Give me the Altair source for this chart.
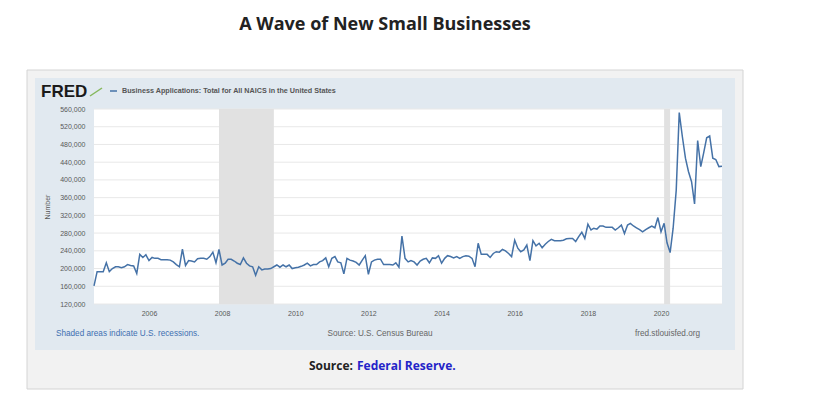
import altair as alt
import pandas as pd

# Monthly business applications (thousands), Jul 2004 .. Sep 2021
values_k = [
    161, 193, 193, 193, 213, 193, 200, 204, 204, 202, 204, 209,
    207, 206, 189, 232, 225, 231, 218, 225, 223, 223, 220, 220,
    220, 219, 215, 209, 204, 244, 207, 218, 217, 215, 222, 223,
    223, 221, 227, 237, 213, 243, 208, 212, 221, 221, 217, 212,
    209, 224, 212, 206, 204, 185, 204, 197, 199, 199, 200, 204,
    208, 203, 208, 204, 208, 200, 202, 203, 205, 208, 212, 206,
    209, 209, 215, 218, 224, 204, 223, 227, 215, 213, 188, 223,
    219, 217, 214, 208, 219, 229, 187, 215, 219, 221, 221, 209,
    209, 209, 208, 213, 203, 273, 223, 215, 218, 215, 208, 217,
    221, 223, 213, 224, 223, 229, 212, 223, 229, 227, 224, 227,
    223, 227, 229, 228, 223, 204, 257, 232, 232, 232, 225, 234,
    238, 237, 243, 240, 234, 227, 264, 246, 238, 242, 253, 218,
    263, 251, 257, 247, 255, 261, 266, 263, 263, 263, 264, 267,
    268, 268, 261, 272, 282, 268, 300, 287, 291, 289, 296, 296,
    293, 293, 293, 287, 292, 298, 279, 298, 302, 296, 292, 288,
    283, 288, 292, 296, 292, 315, 283, 302, 258, 236, 291, 377,
    552, 498, 449, 419, 396, 346, 489, 430, 460, 495, 499, 449,
    446, 430, 431,
]
first_month = "2004-07-01"
recession_start = ["2007-12-01", "2020-02-01"]
recession_end = ["2009-06-01", "2020-04-01"]
y_ticks = [120000, 160000, 200000, 240000, 280000, 320000, 360000,
           400000, 440000, 480000, 520000, 560000]
x_tick_years = [2006, 2008, 2010, 2012, 2014, 2016, 2018, 2020]

dates = pd.date_range(first_month, periods=len(values_k), freq="MS")
df = pd.DataFrame({"date": dates, "value": [v * 1000 for v in values_k]})
rec = pd.DataFrame({"start": pd.to_datetime(recession_start),
                    "end": pd.to_datetime(recession_end)})
grid = pd.DataFrame({"v": y_ticks})
dummy = pd.DataFrame({"a": [0]})

W, H = 628, 195
LBL = "#595959"
FF = "Liberation Sans"

xscale = alt.Scale(domain=[alt.DateTime(year=2004, month=7, date=1),
                           alt.DateTime(year=2021, month=9, date=1)], nice=False)
yscale = alt.Scale(domain=[120000, 560000], nice=False, zero=False)
xaxis = alt.Axis(values=[alt.DateTime(year=y, month=1, date=1) for y in x_tick_years],
                 format="%Y", title=None, domain=False, ticks=False, grid=False,
                 labelFontSize=7, labelColor=LBL, labelFont=FF, labelPadding=5, zindex=1)
yaxis = alt.Axis(values=y_ticks, format=",d", title="Number", domain=False, ticks=False,
                 grid=False, labelFontSize=7, labelColor=LBL, labelFont=FF, labelPadding=9,
                 titleFontSize=7, titleFontWeight="normal", titleColor=LBL, titleFont=FF,
                 titlePadding=9, zindex=1)

base = alt.Chart(dummy)

def box(x1, x2, y1, y2, **kw):
    return base.mark_rect(**kw).encode(x=alt.value(x1), x2=alt.value(x2),
                                       y=alt.value(y1), y2=alt.value(y2))

def txt(s, x, y, **kw):
    return base.mark_text(text=s, **kw).encode(x=alt.value(x), y=alt.value(y))

outer = box(-67, 649, -39, 280, fill="#f2f2f2", stroke="#d4d4d4", strokeWidth=1)
panel = box(-59, 641, -31, 241, fill="#e1e9f0")
plotbg = box(0, W, 0, H, fill="#ffffff")

gridlines = alt.Chart(grid).mark_rule(color="#e8e8e8", strokeWidth=1).encode(
    y=alt.Y("v:Q", scale=yscale, axis=yaxis),
    x=alt.value(0), x2=alt.value(W))

shade = alt.Chart(rec).mark_rect(color="#e1e1e1").encode(
    x=alt.X("start:T", scale=xscale, axis=xaxis), x2="end:T",
    y=alt.value(0), y2=alt.value(H))

line = alt.Chart(df).mark_line(color="#4572a7", strokeWidth=1.5).encode(
    x=alt.X("date:T", scale=xscale, axis=xaxis),
    y=alt.Y("value:Q", scale=yscale, axis=yaxis))

title = txt("A Wave of New Small Businesses", 291, -84, font="Open Sans", fontSize=18,
            fontWeight="bold", color="#222222", align="center", baseline="middle")
fred = txt("FRED", -53, -12, font=FF, fontSize=17, fontWeight="bold", color="#1a1a1a",
           align="left", baseline="alphabetic")
icon = base.mark_rule(color="#86b85c", strokeWidth=1.5).encode(
    x=alt.value(-4), x2=alt.value(8), y=alt.value(-13), y2=alt.value(-21))
legdash = base.mark_rule(color="#4572a7", strokeWidth=1.5).encode(
    x=alt.value(16), x2=alt.value(23), y=alt.value(-18))
legtxt = txt("Business Applications: Total for All NAICS in the United States", 28, -18,
             font=FF, fontSize=7.2, fontWeight="bold", color="#555555", align="left",
             baseline="middle")
foot1 = txt("Shaded areas indicate U.S. recessions.", -38, 225, font=FF, fontSize=8.2,
            color="#3e6fb0", align="left", baseline="middle")
foot2 = txt("Source: U.S. Census Bureau", 286, 225, font=FF, fontSize=8.2,
            color="#666666", align="center", baseline="middle")
foot3 = txt("fred.stlouisfed.org", 606, 225, font=FF, fontSize=8.2,
            color="#666666", align="right", baseline="middle")
src1 = txt("Source:", 259, 257, font="Open Sans", fontSize=12, fontWeight="bold",
           color="#222222", align="right", baseline="middle")
src2 = txt("Federal Reserve.", 263, 257, font="Open Sans", fontSize=12, fontWeight="bold",
           color="#2424c8", align="left", baseline="middle")

chart = alt.layer(
    outer, panel, plotbg, gridlines, shade, line,
    title, fred, icon, legdash, legtxt, foot1, foot2, foot3, src1, src2,
).properties(
    width=W, height=H,
    autosize=alt.AutoSizeParams(type="none"),
    padding={"left": 86, "top": 101, "right": 87, "bottom": 86},
).configure_view(stroke=None).configure(background="#ffffff")

chart.save("out.html", embed_options={"renderer": "svg", "actions": False})
